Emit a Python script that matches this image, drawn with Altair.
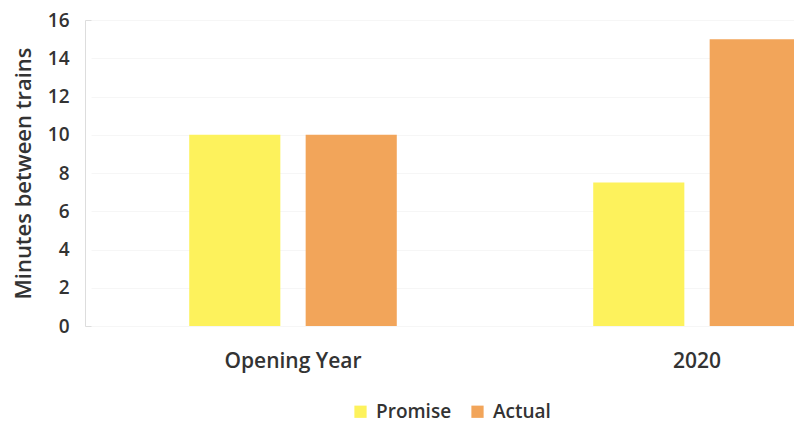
import altair as alt
import pandas as pd

categories = ["Opening Year", "2020"]
series = ["Promise", "Actual"]
promise = [10, 7.5]
actual = [10, 15]
y_ticks = [0, 2, 4, 6, 8, 10, 12, 14, 16]

rows = []
for c, p, a in zip(categories, promise, actual):
    rows.append({"period": c, "series": "Promise", "minutes": p})
    rows.append({"period": c, "series": "Actual", "minutes": a})
df = pd.DataFrame(rows)

FONT = "Open Sans"
TXT = "#333333"
L, T = 85, 20
W, H = 794 - L, 326 - T

chart = alt.Chart(df).mark_bar(clip=True).encode(
    x=alt.X("period:N", sort=categories,
            scale=alt.Scale(range=[91 - L, 899 - L], paddingInner=0, paddingOuter=0),
            axis=alt.Axis(title=None, labelAngle=0, domain=False, ticks=False, grid=False,
                          labelFont=FONT, labelFontSize=21, labelColor=TXT,
                          labelPadding=24, labelFontWeight=600)),
    xOffset=alt.XOffset("series:N", sort=series,
                        scale=alt.Scale(paddingInner=0.2174, paddingOuter=0.8435)),
    y=alt.Y("minutes:Q", scale=alt.Scale(domain=[0, 16], nice=False),
            axis=alt.Axis(values=y_ticks, title="Minutes between trains",
                          domain=False, ticks=False, labelPadding=16,
                          labelFont=FONT, labelFontSize=19, labelColor=TXT, labelFontWeight=600,
                          titleFont=FONT, titleFontSize=22, titleColor=TXT, titleFontWeight=600,
                          titlePadding=12,
                          grid=True, gridColor="#f6f6f6", gridWidth=1)),
    color=alt.Color("series:N", sort=series,
                    scale=alt.Scale(domain=series, range=["#FDF25C", "#F2A55A"]),
                    legend=alt.Legend(title=None, orient="none", direction="horizontal",
                                      legendX=266, legendY=382,
                                      symbolType="square", symbolSize=150,
                                      symbolStrokeWidth=0,
                                      labelFont=FONT, labelFontSize=19, labelColor=TXT,
                                      labelFontWeight=600, columnPadding=16,
                                      labelOffset=6)),
).properties(
    width=W, height=H,
    autosize=alt.AutoSizeParams(type="none"),
    padding={"left": L, "top": T, "right": 0, "bottom": 428 - 326},
).configure_view(stroke=None).configure(background="white")

chart.save("out.html", embed_options={"renderer": "svg", "actions": False})
